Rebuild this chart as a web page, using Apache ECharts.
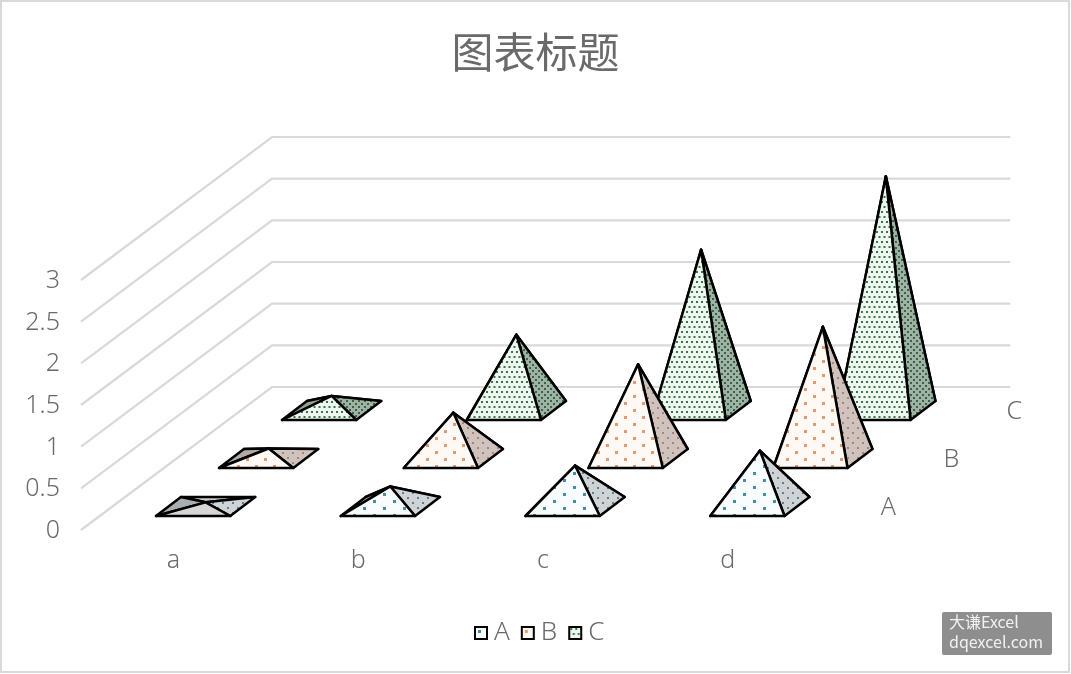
<!DOCTYPE html>
<html><head><meta charset="utf-8">
<style>html,body{margin:0;padding:0;background:#fff}#c{width:1071px;height:674px}</style>
<script src="https://cdn.jsdelivr.net/npm/echarts@6/dist/echarts.min.js"></script>
</head><body><div id="c"></div>
<script>
const categories = ['a','b','c','d'];
const seriesNames = ['A','B','C'];
const valuesA = [0.05,0.24,0.49,0.67];
const valuesB = [0.12,0.55,1.13,1.58];
const valuesC = [0.175,0.91,1.93,2.81];
const yTicks = [0,0.5,1,1.5,2,2.5,3];

const FONT = '"Noto Sans CJK SC","Noto Sans",sans-serif';
const LATIN = '"Noto Sans","Noto Sans CJK SC",sans-serif';
const TEXT = '#6a6a6a';
// oblique projection, in axis units (x: category steps, y: value units)
const P = {ox:0.406, oy:0.144, sx:0.341, sy:0.576, w:0.402, bx:0.135, by:0.228};
const flatThreshold = 0.1;

function tile(w,h,bg,dot,pts,dw,dh){
  const c=document.createElement('canvas');c.width=w;c.height=h;
  const g=c.getContext('2d');g.fillStyle=bg;g.fillRect(0,0,w,h);g.fillStyle=dot;
  pts.forEach(p=>g.fillRect(p[0],p[1],dw,dh));
  return {image:c,repeat:'repeat'};
}
const faces = [
 {front:tile(20,14,'#f8fcfd','#4a8ca8',[[3,3],[13,10]],3,3),
  right:tile(10,10,'#cfd3d5','#5f7f8d',[[2,2],[7,7]],2,2),
  left:'#a9adb0',back:'#c9cbcd'},
 {front:tile(18,14,'#fff9f5','#e29a6e',[[3,3],[12,10]],3,3),
  right:tile(10,10,'#cfc3bf','#b5806a',[[2,2],[7,7]],2,2),
  left:'#b3a9a5',back:'#cfc6c3'},
 {front:tile(10,10,'#eef7f0','#3a7549',[[1,1],[6,1],[3.5,6],[8.5,6],[-1.5,6]],2,2),
  right:tile(6,6,'#9db3a3','#3f5f48',[[1,1],[4,4]],2,2),
  left:'#8fa394',back:'#a9bcae'}
];

function pyramidRender(s){
  return function(params,api){
    const i=api.value(0), v=api.value(1);
    const x0=P.ox+i+s*P.sx, y0=P.oy+s*P.sy;
    const FL=api.coord([x0,y0]),FR=api.coord([x0+P.w,y0]),
          BR=api.coord([x0+P.w+P.bx,y0+P.by]),BL=api.coord([x0+P.bx,y0+P.by]),
          AP=api.coord([x0+(P.w+P.bx)/2,y0+P.by/2+v]);
    const f=faces[s];
    const tri=(a,b,c,fill)=>({type:'polygon',shape:{points:[a,b,c]},
      style:{fill:fill,stroke:'#000',lineWidth:2.5,lineJoin:'round'}});
    return {type:'group',children:[
      tri(BL,BR,AP,f.back),tri(FL,BL,AP,f.left),tri(FR,BR,AP,f.right),
      tri(FL,FR,AP,v<flatThreshold?'#d6d6d6':f.front)
    ]};
  };
}
const wallBase = {x0:0, y0:-0.024, x1:1.034, y1:1.692, x2:5.03};
const depthLabelPos = {x:4.37, y:0.24};

const option = {
  backgroundColor:'#fff',
  animation:false,
  title:{text:'图表标题',left:'center',top:31,padding:0,
    textStyle:{fontFamily:FONT,fontSize:42,fontWeight:'normal',color:TEXT}},
  legend:{left:469,top:615,itemWidth:12,itemHeight:12,itemGap:11,selectedMode:false,
    textStyle:{fontFamily:LATIN,fontSize:26,fontWeight:300,color:TEXT,padding:[0,0,0,2]},
    data:seriesNames.map((n,s)=>({name:n,icon:'rect',
      itemStyle:{color:faces[s].front,borderColor:'#000',borderWidth:2}}))},
  grid:{left:81,top:278,width:739,height:250},
  xAxis:[
    {type:'category',data:categories,boundaryGap:true,axisLine:{show:false},axisTick:{show:false},
     axisLabel:{fontFamily:LATIN,fontSize:25,fontWeight:300,color:TEXT,margin:20},splitLine:{show:false}},
    {type:'value',min:0,max:4,show:false,splitLine:{show:false}}
  ],
  yAxis:{type:'value',min:0,max:3,interval:0.5,axisLine:{show:false},axisTick:{show:false},
    splitLine:{show:false},
    axisLabel:{margin:21,formatter:'{v|{value}}',
      rich:{v:{fontFamily:LATIN,fontSize:25,fontWeight:300,color:TEXT,padding:[6,0,0,0]}}}},
  series:[
    {type:'custom',name:'walls',xAxisIndex:1,z:1,silent:true,clip:false,
     data:yTicks.map(t=>[0,t]),
     renderItem:(p,api)=>{const t=api.value(1);
       return {type:'polyline',shape:{points:[
         api.coord([wallBase.x0,wallBase.y0+t]),
         api.coord([wallBase.x1,wallBase.y1+t]),
         api.coord([wallBase.x2,wallBase.y1+t])]},
         style:{fill:'none',stroke:'#d9d9d9',lineWidth:2.2}};}},
    ...[valuesA,valuesB,valuesC].map((vals,s)=>({
      type:'custom',name:seriesNames[s],xAxisIndex:1,z:5-s,clip:false,silent:true,
      data:vals.map((v,i)=>[i,v]),encode:{x:0,y:1},
      renderItem:pyramidRender(s)})),
    {type:'custom',name:'depth',xAxisIndex:1,z:6,silent:true,clip:false,
     data:seriesNames.map((n,s)=>[s,0]),
     renderItem:(p,api)=>{const s=api.value(0);
       const c=api.coord([depthLabelPos.x+s*P.sx,depthLabelPos.y+s*P.sy]);
       return {type:'text',x:c[0],y:c[1],style:{text:seriesNames[s],font:'300 25px '+LATIN,fill:TEXT,
         align:'center',verticalAlign:'middle'}};}}
  ],
  graphic:[
    {type:'rect',z:100,silent:true,shape:{x:1,y:1,width:1068,height:671},
     style:{fill:'none',stroke:'#d9d9d9',lineWidth:2}},
    {type:'rect',z:100,silent:true,shape:{x:942,y:612,width:110,height:43,r:2},style:{fill:'#8e8e8e'}},
    {type:'text',z:101,silent:true,x:949,y:622,style:{text:'大谦Excel',font:'16px '+FONT,fill:'#f2f2f2',verticalAlign:'middle'}},
    {type:'text',z:101,silent:true,x:949,y:642,style:{text:'dqexcel.com',font:'16px '+FONT,fill:'#f2f2f2',verticalAlign:'middle'}}
  ]
};
const chart=echarts.init(document.getElementById('c'),null,{renderer:'canvas',width:1071,height:674});
chart.setOption(option);
</script></body></html>
